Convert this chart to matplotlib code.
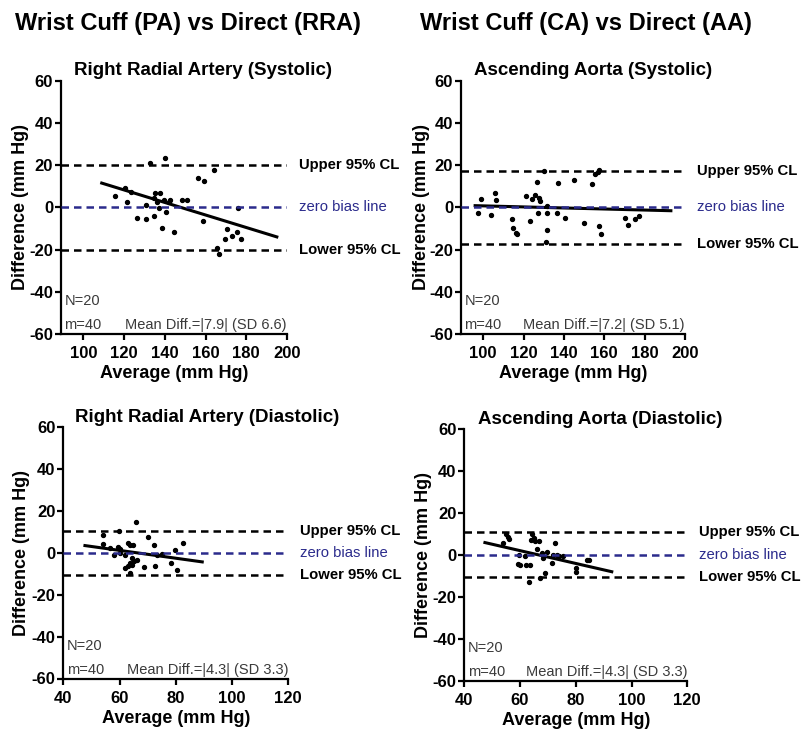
import matplotlib
matplotlib.use('Agg')
import matplotlib.pyplot as plt

plt.rcParams['font.family'] = ['Liberation Sans', 'DejaVu Sans']
plt.rcParams['axes.unicode_minus'] = False

# === DATA ===
rra_sys_avg = [115.5, 120.2, 121.5, 123.5, 126.4, 130.6, 130.8, 132.6, 134.5, 134.8,
               135.0, 136.2, 137.1, 137.8, 138.4, 139.4, 139.9, 140.7, 141.9, 142.7,
               144.5, 148.4, 151.1, 156.5, 159.0, 158.5, 164.2, 165.8, 166.8, 170.4,
               169.7, 173.1, 175.6, 176.0, 177.2]
rra_sys_diff = [5.5, 9.4, 2.5, 7.2, -5.2, -5.4, 1.0, 20.8, -3.9, 4.3,
                7.0, 2.7, -0.2, 6.9, -9.6, 3.3, 23.6, -2.0, 2.7, 3.3,
                -11.5, 3.3, 3.6, 13.7, 12.4, -6.5, 17.5, -19.4, -22.2, -10.2,
                -15.0, -13.5, -11.8, -0.5, -15.0]
rra_sys_fit_x = [109, 195]
rra_sys_fit_y = [11.5, -14.0]
rra_sys_cl = [20.0, -20.0]

aa_sys_avg = [97.5, 98.8, 104.1, 105.8, 106.4, 114.3, 114.8, 116.3, 116.8, 121.1,
              123.1, 124.2, 125.9, 126.7, 127.2, 127.5, 128.0, 130.3, 131.3, 131.8,
              131.8, 131.5, 136.6, 137.2, 140.7, 144.8, 149.8, 154.0, 155.5, 156.7,
              157.5, 157.5, 158.6, 170.5, 171.8, 175.3, 177.4]
aa_sys_diff = [-2.5, 3.75, -3.4, 7.0, 3.3, -5.5, -9.7, -12.0, -12.5, 5.2,
               -6.25, 3.9, 5.9, 11.9, -2.8, 4.4, 3.1, 17.0, -16.4, -10.9,
               -2.8, 0.8, -2.8, 11.7, -5.0, 13.1, -7.2, 10.9, 15.6, 16.9,
               17.5, -8.75, -12.8, -5.0, -8.3, -5.3, -4.2]
aa_sys_fit_x = [96, 193]
aa_sys_fit_y = [0.8, -1.6]
aa_sys_cl = [17.2, -17.2]

rra_dia_avg = [54.2, 54.2, 56.6, 58.0, 59.5, 60.1, 60.3, 59.9, 61.8, 62.0,
               63.0, 63.1, 63.7, 63.7, 64.3, 64.6, 64.9, 65.2, 65.8, 66.3,
               63.7, 68.8, 70.0, 72.3, 72.6, 73.2, 75.0, 78.2, 79.8, 80.5, 82.7]
rra_dia_diff = [8.5, 4.3, 2.4, -0.8, 2.9, 0.0, 1.9, 10.7, -1.1, -7.2,
                -6.1, 4.8, 3.7, -4.8, -2.4, -5.6, 4.0, -3.7, 14.7, -3.2,
                -9.6, -6.7, 7.7, 3.7, -6.2, -1.1, -0.5, -4.8, 1.4, -8.0, 4.8]
rra_dia_fit_x = [47.7, 89.4]
rra_dia_fit_y = [3.5, -4.3]
rra_dia_cl = [10.7, -10.7]

aa_dia_avg = [54.0, 55.0, 55.8, 56.0, 59.4, 59.7, 60.0, 61.7, 62.1, 63.3,
              63.6, 63.9, 64.3, 65.0, 65.4, 66.2, 66.9, 67.2, 67.8, 68.3,
              68.9, 69.5, 71.3, 71.9, 72.5, 73.3, 73.9, 75.5, 80.0, 80.1, 83.9, 84.6]
aa_dia_diff = [5.9, 10.3, 8.7, 7.9, -4.1, 0.0, -4.6, -0.5, -4.5, -12.6,
               -4.5, 7.2, 9.9, 8.3, 6.7, 3.0, 6.7, -10.8, 1.1, -1.3,
               -8.4, 1.6, -3.7, 0.3, 5.6, 0.0, -0.6, -0.6, -6.0, -7.9, -2.5, -2.1]
aa_dia_fit_x = [47.4, 92.9]
aa_dia_fit_y = [6.0, -7.9]
aa_dia_cl = [11.0, -10.5]

titles = ["Right Radial Artery (Systolic)", "Ascending Aorta (Systolic)",
          "Right Radial Artery (Diastolic)", "Ascending Aorta (Diastolic)"]
mean_texts = ["Mean Diff.=|7.9| (SD 6.6)", "Mean Diff.=|7.2| (SD 5.1)",
              "Mean Diff.=|4.3| (SD 3.3)", "Mean Diff.=|4.3| (SD 3.3)"]
sys_ticks = [100, 120, 140, 160, 180, 200]
dia_ticks = [40, 60, 80, 100, 120]
y_ticks = [-60, -40, -20, 0, 20, 40, 60]

W, H = 803, 731
fig = plt.figure(figsize=(W / 100, H / 100), dpi=100)

def add_axes_px(left, top, right, bottom):
    return fig.add_axes([left / W, 1 - bottom / H, (right - left) / W, (bottom - top) / H])

# pixel box, x range, ticks, data..., title centre and y-label x (axes fraction)
panels = [
    ((61, 80.7, 287, 334), (89, 200), sys_ticks, rra_sys_avg, rra_sys_diff,
     rra_sys_fit_x, rra_sys_fit_y, rra_sys_cl, 0.63, -0.14),
    ((461, 80.7, 685, 334), (89, 200), sys_ticks, aa_sys_avg, aa_sys_diff,
     aa_sys_fit_x, aa_sys_fit_y, aa_sys_cl, 0.59, -0.14),
    ((63.3, 427.3, 288.3, 678.5), (40, 120), dia_ticks, rra_dia_avg, rra_dia_diff,
     rra_dia_fit_x, rra_dia_fit_y, rra_dia_cl, 0.64, -0.15),
    ((464.3, 429.3, 687.3, 681), (40, 120), dia_ticks, aa_dia_avg, aa_dia_diff,
     aa_dia_fit_x, aa_dia_fit_y, aa_dia_cl, 0.61, -0.145),
]

navy = '#2b2b8c'
grey = '#3a3a3a'

for i, (box, xlim, xticks, avg, diff, fx, fy, cl, tx, ylx) in enumerate(panels):
    ax = add_axes_px(*box)
    ax.set_xlim(*xlim)
    ax.set_ylim(-60, 60)
    ax.set_xticks(xticks)
    ax.set_yticks(y_ticks)
    for s in ['top', 'right']:
        ax.spines[s].set_visible(False)
    for s in ['left', 'bottom']:
        ax.spines[s].set_linewidth(1.6)
    ax.tick_params(direction='out', length=4.2, width=1.6, labelsize=12)
    ax.tick_params(axis='y', pad=1.5)
    ax.tick_params(axis='x', pad=4.5)
    for lab in ax.get_xticklabels() + ax.get_yticklabels():
        lab.set_fontweight('bold')

    # limits of agreement
    for v in cl:
        ax.axhline(v, color='black', lw=1.8, dashes=(3, 2))
    ax.scatter(avg, diff, s=8, color='black', zorder=3)
    ax.plot(fx, fy, color='black', lw=2.2, zorder=4)
    ax.axhline(0, color=navy, lw=1.8, dashes=(3, 2), zorder=5)

    ax.annotate("Upper 95% CL", xy=(1, cl[0]), xycoords=('axes fraction', 'data'),
                xytext=(12, 0), textcoords='offset pixels', va='center',
                fontsize=10.7, fontweight='bold', annotation_clip=False)
    ax.annotate("zero bias line", xy=(1, 0), xycoords=('axes fraction', 'data'),
                xytext=(12, 0), textcoords='offset pixels', va='center',
                fontsize=10.7, color=navy, annotation_clip=False)
    ax.annotate("Lower 95% CL", xy=(1, cl[1]), xycoords=('axes fraction', 'data'),
                xytext=(12, 0), textcoords='offset pixels', va='center',
                fontsize=10.7, fontweight='bold', annotation_clip=False)

    ax.text(0.015, 0.13, "N=20", transform=ax.transAxes, fontsize=10.5, color=grey, va='center')
    ax.text(0.015, 0.035, "m=40", transform=ax.transAxes, fontsize=10.5, color=grey, va='center')
    ax.text(1.0, 0.035, mean_texts[i], transform=ax.transAxes, fontsize=10.5, color=grey,
            va='center', ha='right')

    ax.text(tx, 1.022, titles[i], transform=ax.transAxes, fontsize=13.5, fontweight='bold',
            ha='center', va='baseline')
    ax.set_ylabel("Difference (mm Hg)", fontsize=13, fontweight='bold')
    ax.yaxis.set_label_coords(ylx, 0.5)
    ax.set_xlabel("Average (mm Hg)", fontsize=13, fontweight='bold', labelpad=3)

fig.text(15 / W, 1 - 30 / H, "Wrist Cuff (PA) vs Direct (RRA)", fontsize=17,
         fontweight='bold', va='baseline')
fig.text(420 / W, 1 - 30 / H, "Wrist Cuff (CA) vs Direct (AA)", fontsize=17,
         fontweight='bold', va='baseline')

fig.savefig('out.png', dpi=100, facecolor='white')
